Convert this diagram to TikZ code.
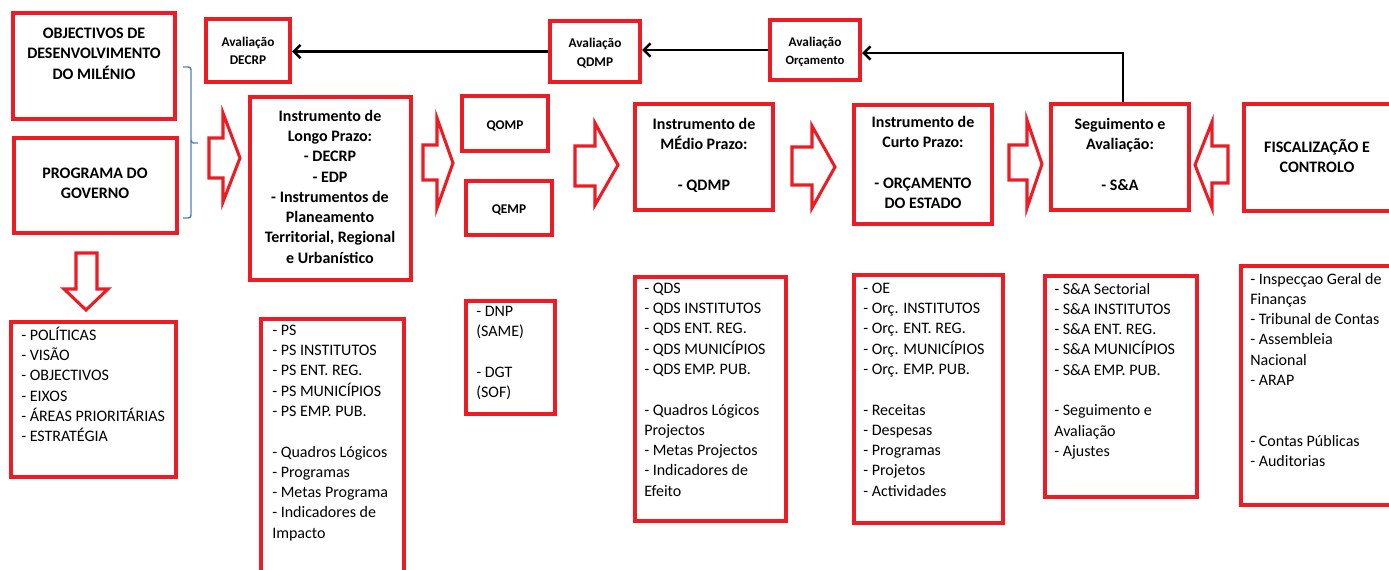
\documentclass[tikz,border=0pt]{standalone}
\usepackage{fontspec}
\setmainfont{Carlito}
\usetikzlibrary{arrows.meta}
\definecolor{boxred}{RGB}{237,28,36}
\definecolor{brblue}{RGB}{79,129,189}
\tikzset{
 rbox/.style={draw=boxred, line width=2.7pt, fill=white, inner sep=0pt, rectangle},
 blk/.style={draw=boxred, line width=2.3pt, fill=white, line join=miter},
 lst/.style={inner sep=0pt, anchor=north west, align=left, font=\fontsize{12}{15.2}\selectfont, execute at begin node=\strut},
 ttl/.style={inner sep=0pt, anchor=north, align=center, font=\fontsize{12}{15.2}\selectfont\bfseries, execute at begin node=\strut},
 sml/.style={inner sep=0pt, anchor=north, align=center, font=\fontsize{10}{14.2}\selectfont\bfseries, execute at begin node=\strut},
 fb/.style={draw=black, line width=1.9pt, -{Straight Barb[length=5pt,width=10pt]}},
 brace/.style={draw=brblue, line width=1.1pt, rounded corners=2pt},
}
\newcommand\rboxat[5]{%
 \pgfmathsetmacro\rbW{(#4-#2-3.5)*0.75}%
 \pgfmathsetmacro\rbH{(#5-#3-3.5)*0.75}%
 \node[rbox, minimum width=\rbW pt, minimum height=\rbH pt] (#1) at ({(#2+#4)/2},{(#3+#5)/2}) {};}
\begin{document}
\begin{tikzpicture}[x=0.75pt,y=-0.75pt]
\useasboundingbox (0,0) rectangle (1389,570);
\clip (0,0) rectangle (1389,570);
% boxes
\rboxat{obj}{11}{11}{177}{121}
\rboxat{prog}{12}{136}{179}{235}
\rboxat{evD}{204}{17}{292}{84}
\rboxat{longo}{248}{95}{413}{282}
\rboxat{qomp}{460}{94}{550}{153}
\rboxat{qemp}{464}{179}{554}{237}
\rboxat{evQ}{548}{19}{642}{84}
\rboxat{evO}{768}{18}{862}{82}
\rboxat{medio}{633}{102}{775}{212}
\rboxat{curto}{852}{103}{994}{226}
\rboxat{seg}{1049}{102}{1191}{212}
\rboxat{fisc}{1242}{102}{1395}{213}
\rboxat{pol}{9}{320}{178}{479}
\rboxat{ps}{259}{317}{406}{600}
\rboxat{dnp}{464}{299}{557}{416}
\rboxat{qds}{633}{275}{788}{523}
\rboxat{oe}{852}{273}{1005}{525}
\rboxat{sa}{1043}{274}{1199}{499}
\rboxat{fc}{1239}{264}{1395}{507}
% titles
\node[ttl] (tobj) at (94,27.8) {OBJECTIVOS DE\\DESENVOLVIMENTO\\DO MILÉNIO};
\node[ttl] (tprog) at (95,167.8) {PROGRAMA DO\\GOVERNO};
\node[sml] (tevD) at (248,36.4) {Avaliação\\DECRP};
\node[ttl] (tlongo) at (330,109.8) {Instrumento de\\Longo Prazo:\\- DECRP\\- EDP\\- Instrumentos de\\Planeamento\\Territorial, Regional\\e Urbanístico};
\node[sml] (tqomp) at (505,116.4) {QOMP};
\node[sml] (tqemp) at (509,200.4) {QEMP};
\node[sml] (tevQ) at (595,38) {Avaliação\\QDMP};
\node[sml] (tevO) at (815,36.4) {Avaliação\\{\fontsize{9.5}{13}\selectfont Orçamento}};
\node[ttl] (tmed) at (704,117.8) {Instrumento de\\MÉdio Prazo:\\[15.2pt]- QDMP};
\node[ttl] (tcur) at (923,115.8) {Instrumento de\\Curto Prazo:\\[15.2pt]- ORÇAMENTO\\DO ESTADO};
\node[ttl] (tseg) at (1120,117.8) {Seguimento e\\Avaliação:\\[15.2pt]- S\&A};
\node[ttl] (tfisc) at (1317,138.8) {FISCALIZAÇÃO E\\CONTROLO};
% lists
\node[lst] (lpol) at (21,326.8) {- POLÍTICAS\\- VISÃO\\- OBJECTIVOS\\- EIXOS\\- ÁREAS PRIORITÁRIAS\\- ESTRATÉGIA};
\node[lst] (lps) at (272,324.8) {- PS\\- PS INSTITUTOS\\- PS ENT. REG.\\- PS MUNICÍPIOS\\- PS EMP. PUB.\\[15.2pt]- Quadros Lógicos\\- Programas\\- Metas Programa\\- Indicadores de\\Impacto};
\node[lst] (ldnp) at (476,305.8) {- DNP\\(SAME)\\[15.2pt]- DGT\\(SOF)};
\node[lst] (lqds) at (644,282.8) {- QDS\\- QDS INSTITUTOS\\- QDS ENT. REG.\\- QDS MUNICÍPIOS\\- QDS EMP. PUB.\\[15.2pt]- Quadros Lógicos\\Projectos\\- Metas Projectos\\- Indicadores de\\Efeito};
\node[lst] (loe) at (863,282.8) {- OE\\- Orç. INSTITUTOS\\- Orç. ENT. REG.\\- Orç. MUNICÍPIOS\\- Orç. EMP. PUB.\\[15.2pt]- Receitas\\- Despesas\\- Programas\\- Projetos\\- Actividades};
\node[lst] (lsa) at (1054,282.8) {- S\&A Sectorial\\- S\&A INSTITUTOS\\- S\&A ENT. REG.\\- S\&A MUNICÍPIOS\\- S\&A EMP. PUB.\\[15.2pt]- Seguimento e\\Avaliação\\- Ajustes};
\node[lst] (lfc) at (1250,272.8) {- Inspecçao Geral de\\Finanças\\- Tribunal de Contas\\- Assembleia\\Nacional\\- ARAP\\[30.4pt]- Contas Públicas\\- Auditorias};
% block arrows
\draw[blk] (209,138) -- (223,138) -- (223,113) -- (240,158) -- (223,202) -- (223,178) -- (209,178) -- cycle;
\draw[blk] (423,145) -- (437,145) -- (437,118) -- (453,163) -- (437,208) -- (437,180) -- (423,180) -- cycle;
\draw[blk] (575,146) -- (595,146) -- (595,123) -- (618,165) -- (595,205) -- (595,186) -- (575,186) -- cycle;
\draw[blk] (792,147) -- (812,147) -- (812,126) -- (835,167) -- (812,208) -- (812,185) -- (792,185) -- cycle;
\draw[blk] (1009,145) -- (1027,145) -- (1027,120) -- (1042,164) -- (1027,208) -- (1027,180) -- (1009,180) -- cycle;
\draw[blk] (1228,146) -- (1212,146) -- (1212,122) -- (1195,165) -- (1212,208) -- (1212,183) -- (1228,183) -- cycle;
\draw[blk] (76,253) -- (97,253) -- (97,289) -- (108,289) -- (86,310) -- (64,289) -- (76,289) -- cycle;
% brace
\draw[brace] (183,67) -| (191,143) -- (198,143);
\draw[brace] (191,140) |- (183,218);
% feedback connectors
\coordinate (fbk) at (1123,53);
\draw[fb] (fbk |- seg.north) -- (fbk) -- (evO.east |- fbk);
\draw[fb] (evO.west) -- (evQ.east |- evO.west);
\draw[fb] (evQ.west) -- (evD.east |- evQ.west);
\end{tikzpicture}
\end{document}
